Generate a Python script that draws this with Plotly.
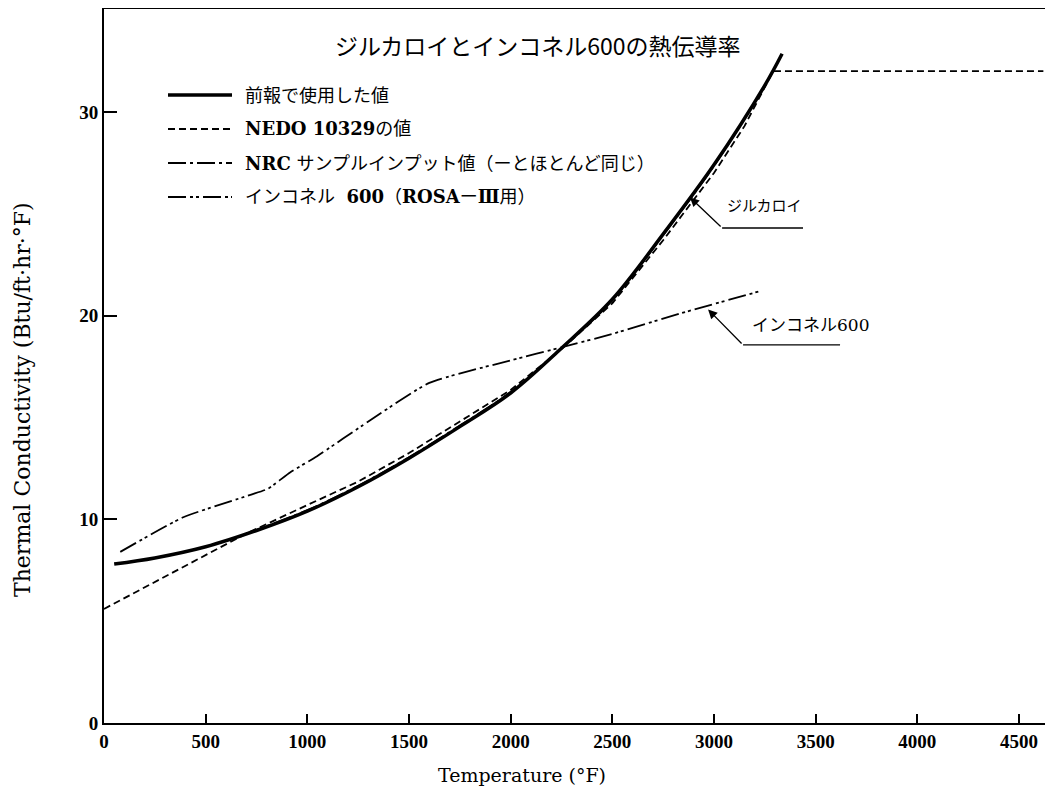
import plotly.graph_objects as go

# ---------------- data ----------------
temp_prev = [50, 250, 500, 750, 1000, 1250, 1500, 1750, 2000, 2250, 2500, 2750, 3000, 3250, 3335]
k_prev = [7.8, 8.1, 8.65, 9.45, 10.4, 11.6, 13.0, 14.55, 16.2, 18.4, 20.8, 24.0, 27.4, 31.3, 32.85]

temp_nedo = [0, 350, 700, 1000, 1250, 1500, 1750, 2000, 2250, 2500, 2750, 3000, 3150, 3291, 4620]
k_nedo = [5.6, 7.45, 9.3, 10.7, 11.85, 13.25, 14.8, 16.35, 18.35, 20.6, 23.7, 27.0, 29.3, 32.0, 32.0]

temp_nrc = [700, 1000, 1250, 1500, 1750, 2000, 2250, 2500, 2750, 3000, 3250]
k_nrc = [9.3, 10.45, 11.65, 13.05, 14.6, 16.25, 18.4, 20.75, 23.95, 27.35, 31.25]

temp_inc = [80, 390, 720, 807, 915, 1048, 1300, 1600, 2000, 2258, 2500, 2833, 3227]
k_inc = [8.4, 10.1, 11.2, 11.5, 12.3, 13.1, 14.8, 16.7, 17.8, 18.46, 19.1, 20.1, 21.2]

legend_names = [
    "前報で使用した値",
    "<b>NEDO 10329</b>の値",
    "<b>NRC</b> サンプルインプット値（ーとほとんど同じ）",
    "インコネル  <b>600</b>（<b>ROSA</b>ー<b>Ⅲ</b>用）",
]
legend_dash = ["solid", "7px,4px", "18px,4px,3px,4px", "18px,4px,3px,3px,3px,4px"]
legend_width = [3.5, 1.8, 1.8, 1.8]

title_text = "ジルカロイとインコネル600の熱伝導率"
x_title = "Temperature (°F)"
y_title = "Thermal Conductivity (Btu/ft·hr·°F)"
x_ticks = [0, 500, 1000, 1500, 2000, 2500, 3000, 3500, 4000, 4500]
y_ticks = [0, 10, 20, 30]

# ---------------- figure ----------------
# the page body has an 8px margin, so the figure is sized/offset to compensate
OFF = 8
W, H = 1038, 779
ML, MR, MT, MB = 96, 1, 1, 64
FONT = "DejaVu Serif, Noto Sans CJK JP, serif"
TFONT = "Liberation Serif, serif"
JFONT = "Noto Sans CJK JP, DejaVu Serif, sans-serif"

def px2paper(px, py):
    """convert page pixel position to paper coordinates"""
    return ((px - OFF - ML) / (W - ML - MR),
            (OFF + H - MB - py) / (H - MT - MB))

fig = go.Figure()
fig.add_trace(go.Scatter(x=temp_nrc, y=k_nrc, mode="lines", name=legend_names[2],
                         line=dict(color="black", width=1.8, dash=legend_dash[2], shape="spline")))
fig.add_trace(go.Scatter(x=temp_nedo, y=k_nedo, mode="lines", name=legend_names[1],
                         line=dict(color="black", width=1.8, dash=legend_dash[1], shape="linear")))
fig.add_trace(go.Scatter(x=temp_prev, y=k_prev, mode="lines", name=legend_names[0],
                         line=dict(color="black", width=3.5, shape="spline")))
fig.add_trace(go.Scatter(x=temp_inc, y=k_inc, mode="lines", name=legend_names[3],
                         line=dict(color="black", width=1.8, dash=legend_dash[3], shape="spline", smoothing=0.5)))

shapes = []
annotations = []

# manual legend (line samples + labels)
legend_rows_px = [95, 129, 163, 197]
for name, dash, w, py in zip(legend_names, legend_dash, legend_width, legend_rows_px):
    x0, y0 = px2paper(168, py)
    x1, _ = px2paper(232, py)
    shapes.append(dict(type="line", xref="paper", yref="paper", x0=x0, x1=x1, y0=y0, y1=y0,
                       line=dict(color="black", width=w, dash=dash)))
    tx, _ = px2paper(243, py)
    annotations.append(dict(xref="paper", yref="paper", x=tx, y=y0, text=name, showarrow=False,
                            xanchor="left", yanchor="middle",
                            font=dict(family=FONT, size=18, color="black")))

# title
tx, ty = px2paper(538, 45)
annotations.append(dict(xref="paper", yref="paper", x=tx, y=ty, text=title_text, showarrow=False,
                        xanchor="center", yanchor="middle",
                        font=dict(family=JFONT, size=23, color="black")))

# axis titles
tx, ty = px2paper(522, 775)
annotations.append(dict(xref="paper", yref="paper", x=tx, y=ty, text=x_title, showarrow=False,
                        xanchor="center", yanchor="middle",
                        font=dict(family="DejaVu Serif, serif", size=19, color="black")))
tx, ty = px2paper(22, 400)
annotations.append(dict(xref="paper", yref="paper", x=tx, y=ty, text=y_title, showarrow=False,
                        xanchor="center", yanchor="middle", textangle=-90,
                        font=dict(family="DejaVu Serif, serif", size=22, color="black")))

# callouts
annotations.append(dict(x=2882, y=25.8, ax=3040, ay=24.3, axref="x", ayref="y", text="",
                        showarrow=True, arrowhead=2, arrowsize=1.4, arrowwidth=1.3, arrowcolor="black"))
shapes.append(dict(type="line", xref="x", yref="y", x0=3040, x1=3438, y0=24.3, y1=24.3,
                   line=dict(color="black", width=1.3)))
annotations.append(dict(x=3250, y=25.45, text="ジルカロイ", showarrow=False, xanchor="center", yanchor="middle",
                        font=dict(family=JFONT, size=15, color="black")))

annotations.append(dict(x=2971, y=20.3, ax=3143, ay=18.56, axref="x", ayref="y", text="",
                        showarrow=True, arrowhead=2, arrowsize=1.4, arrowwidth=1.3, arrowcolor="black"))
shapes.append(dict(type="line", xref="x", yref="y", x0=3143, x1=3620, y0=18.56, y1=18.56,
                   line=dict(color="black", width=1.3)))
annotations.append(dict(x=3475, y=19.55, text="インコネル600", showarrow=False,
                        xanchor="center", yanchor="middle",
                        font=dict(family="DejaVu Serif, Noto Sans CJK JP, serif", size=17, color="black")))

fig.update_layout(
    width=W, height=H,
    margin=dict(l=ML, r=MR, t=MT, b=MB, pad=0, autoexpand=False),
    paper_bgcolor="white", plot_bgcolor="white",
    showlegend=False,
    shapes=shapes, annotations=annotations,
    xaxis=dict(range=[0, 4628], tickvals=x_ticks, ticks="inside", ticklen=9, tickwidth=1.5,
               tickcolor="black", showline=True, linecolor="black", linewidth=2, mirror=True,
               showgrid=False, zeroline=False, automargin=False,
               tickfont=dict(family=TFONT, size=19, color="black", weight="bold")),
    yaxis=dict(range=[0, 35.05], tickvals=y_ticks, ticks="inside", ticklen=13, tickwidth=1.5,
               tickcolor="black", showline=True, linecolor="black", linewidth=2,
               showgrid=False, zeroline=False, automargin=False,
               tickfont=dict(family=TFONT, size=19, color="black", weight="bold")),
)

fig.write_html("out.html")
